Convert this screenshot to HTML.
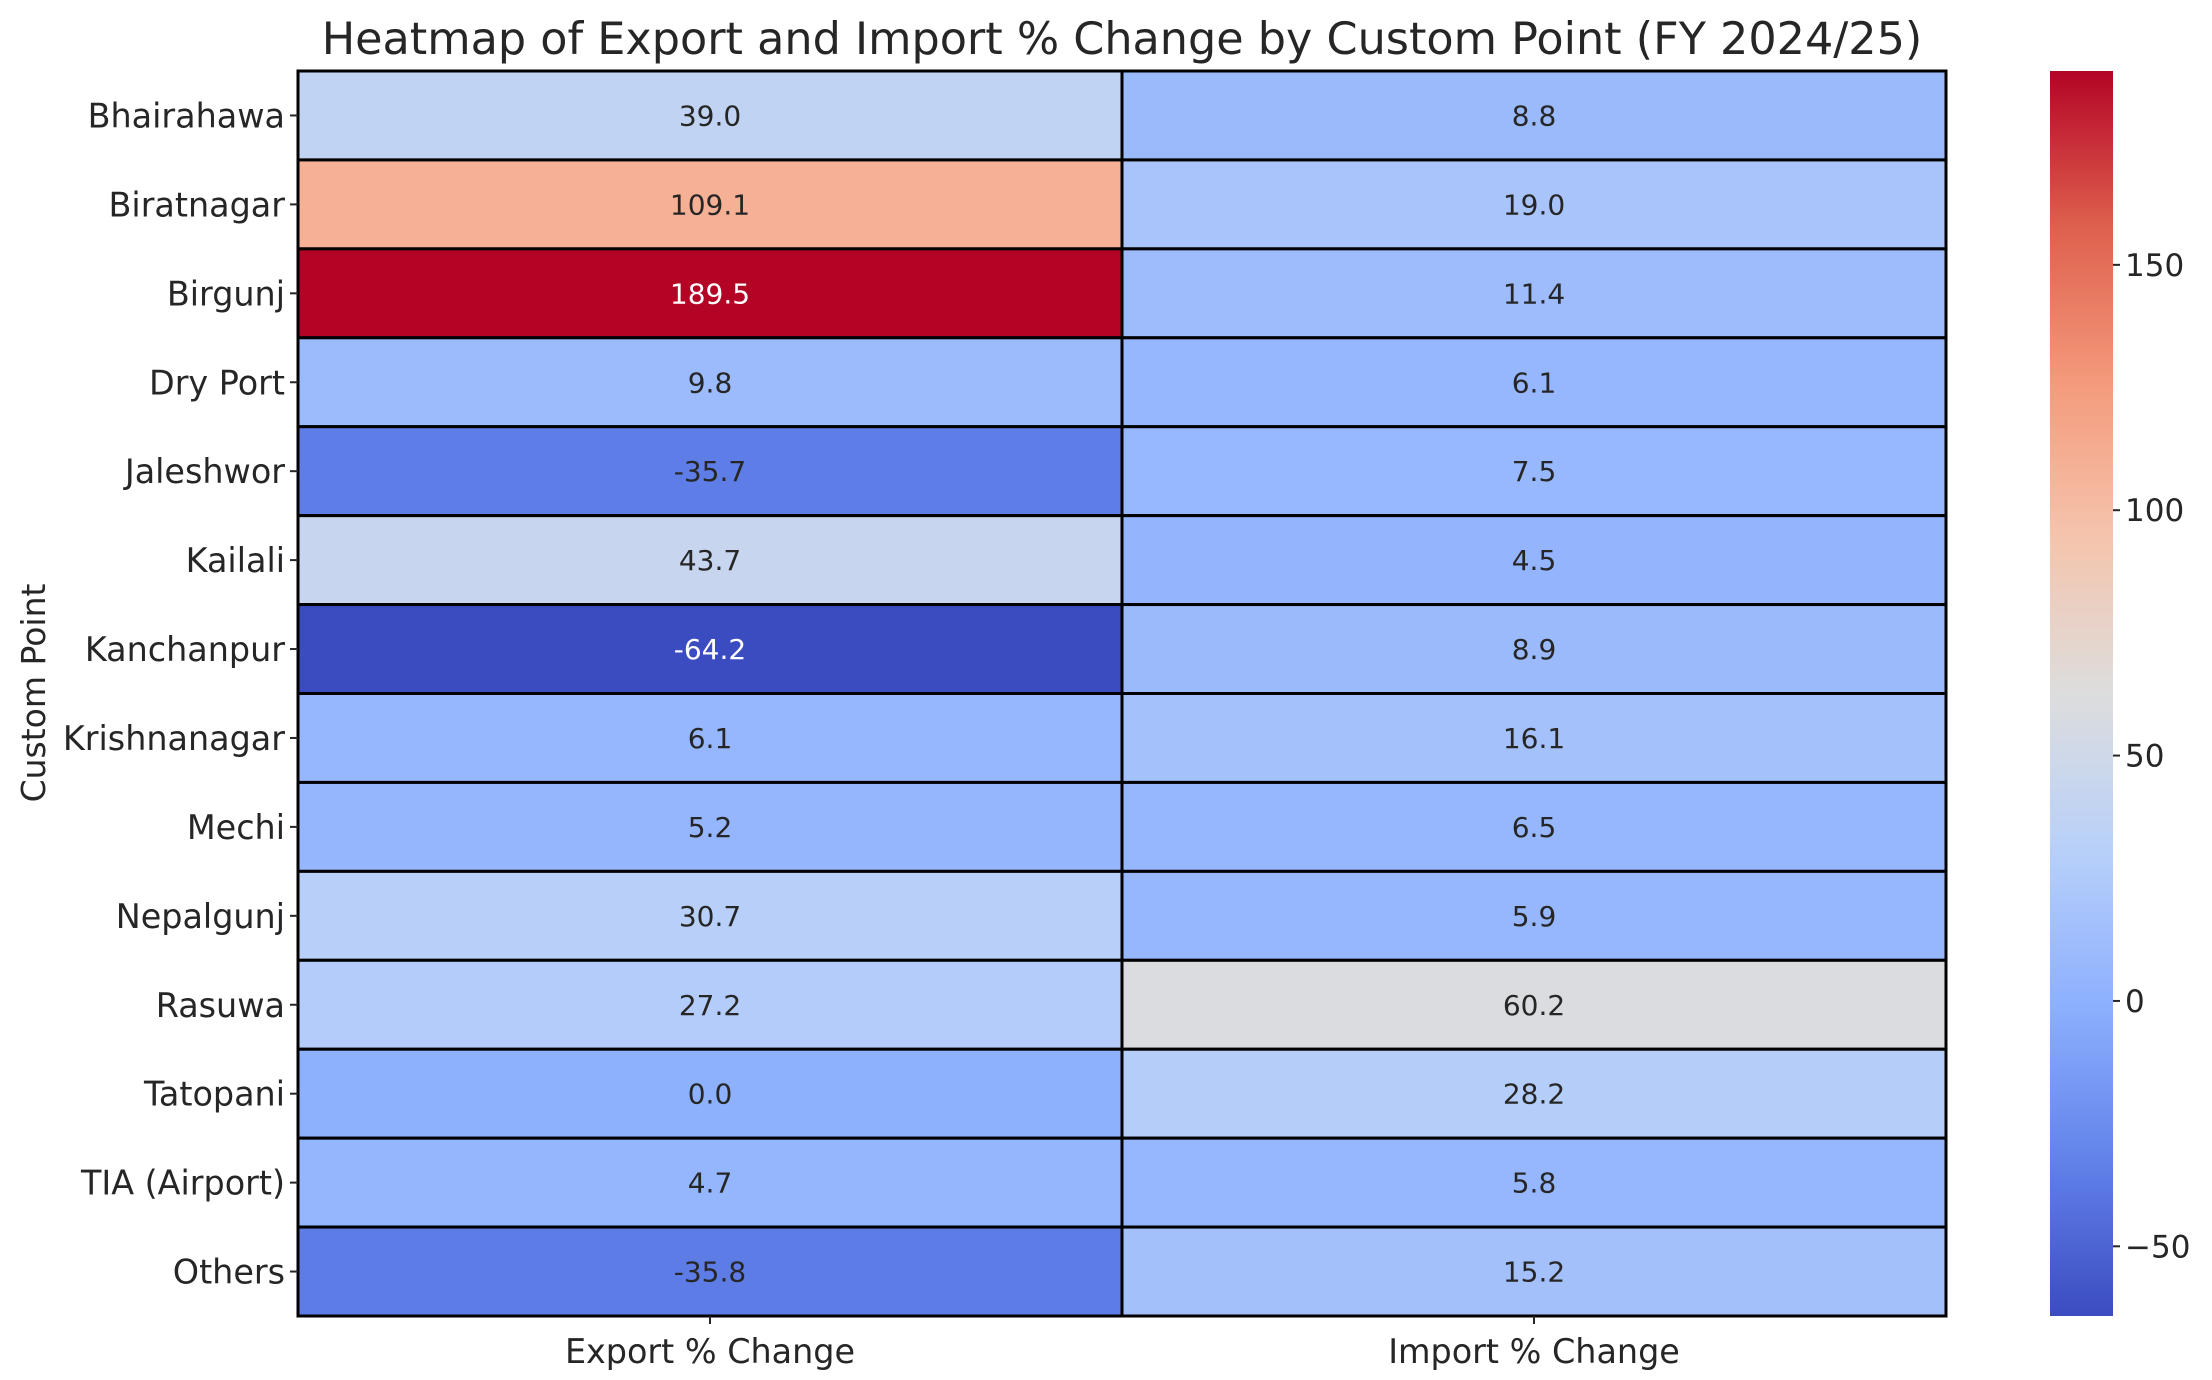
<!DOCTYPE html>
<html><head><meta charset="utf-8"><style>
html,body{margin:0;padding:0;background:#fff;}
svg{display:block;font-family:"DejaVu Sans","Liberation Sans",sans-serif;}
</style></head><body>
<svg id="chart" width="2212" height="1380" viewBox="0 0 2212 1380" xmlns="http://www.w3.org/2000/svg">
<defs><linearGradient id="cbgrad" x1="0" y1="1" x2="0" y2="0"></linearGradient></defs>
<text x="1122" y="54" text-anchor="middle" font-size="44.5" fill="#262626">Heatmap of Export and Import % Change by Custom Point (FY 2024/25)</text>
<g id="cells"></g><g id="ylabels"></g><g id="xlabels"></g><g id="cbar"></g>
<text transform="translate(45,693) rotate(-90)" text-anchor="middle" font-size="33" fill="#262626">Custom Point</text>
</svg>
<script>
const rows = ["Bhairahawa","Biratnagar","Birgunj","Dry Port","Jaleshwor","Kailali","Kanchanpur","Krishnanagar","Mechi","Nepalgunj","Rasuwa","Tatopani","TIA (Airport)","Others"];
const columns = ["Export % Change","Import % Change"];
const exportVals = [39.0,109.1,189.5,9.8,-35.7,43.7,-64.2,6.1,5.2,30.7,27.2,0.0,4.7,-35.8];
const importVals = [8.8,19.0,11.4,6.1,7.5,4.5,8.9,16.1,6.5,5.9,60.2,28.2,5.8,15.2];
const cbTicks = [-50,0,50,100,150];

const NS="http://www.w3.org/2000/svg";
const L=298,R=1946,T=71,B=1316;
const vmin=Math.min(...exportVals,...importVals), vmax=Math.max(...exportVals,...importVals);
const stops=[[59,76,192],[98,130,234],[141,176,254],[184,208,249],[221,221,221],[245,196,173],[244,154,123],[222,96,77],[180,4,38]];
function cmap(t){t=Math.max(0,Math.min(1,t));const p=t*8,i=Math.min(7,Math.floor(p)),f=p-i;const a=stops[i],b=stops[i+1];return [0,1,2].map(k=>Math.round(a[k]+(b[k]-a[k])*f));}
const xScale=c=>L+(R-L)/columns.length*c;
const yScale=r=>T+(B-T)/rows.length*r;
const cw=(R-L)/columns.length, rh=(B-T)/rows.length;
const cbY=v=>B-(v-vmin)/(vmax-vmin)*(B-T);
function el(tag,attrs,parent){const e=document.createElementNS(NS,tag);for(const k in attrs)e.setAttribute(k,attrs[k]);parent.appendChild(e);return e;}
const cells=document.getElementById('cells');
const series=[exportVals,importVals];
series.forEach((vals,c)=>{vals.forEach((v,r)=>{
  const col=cmap((v-vmin)/(vmax-vmin));
  const rc=el('rect',{x:xScale(c),y:yScale(r),width:cw,height:rh,fill:`rgb(${col})`,stroke:'#000','stroke-width':3},cells);
  
  
  const lum=(0.2126*col[0]+0.7152*col[1]+0.0722*col[2])/255;
  const tx=el('text',{x:xScale(c)+cw/2,y:yScale(r)+rh/2+10,'text-anchor':'middle','font-size':28,fill:lum>0.408?'#262626':'#ffffff'},cells);
  tx.textContent=v.toFixed(1);
  
  
});});
const yl=document.getElementById('ylabels');
rows.forEach((n,r)=>{const cy=yScale(r)+rh/2;
  el('line',{x1:L-8,x2:L,y1:cy,y2:cy,stroke:'#262626','stroke-width':2},yl);
  const t=el('text',{x:L-13,y:cy+12,'text-anchor':'end','font-size':33.4,fill:'#262626'},yl);
  t.textContent=n;
  
  
});
const xl=document.getElementById('xlabels');
columns.forEach((n,c)=>{const cx=xScale(c)+cw/2;
  el('line',{x1:cx,x2:cx,y1:B,y2:B+8,stroke:'#262626','stroke-width':2},xl);
  const t=el('text',{x:cx,y:B+47,'text-anchor':'middle','font-size':33.4,fill:'#262626'},xl);
  t.textContent=n;
  
  
});
const g=document.getElementById('cbgrad');
for(let i=0;i<=16;i++){el('stop',{offset:i/16,'stop-color':`rgb(${cmap(i/16)})`},g);}
const cb=document.getElementById('cbar');
const bar=el('rect',{x:2050,y:T,width:63,height:B-T,fill:'url(#cbgrad)'},cb);


cbTicks.forEach(v=>{const y=cbY(v);
  el('line',{x1:2113,x2:2120,y1:y,y2:y,stroke:'#262626','stroke-width':2},cb);
  const t=el('text',{x:2125,y:y+11,'font-size':31,fill:'#262626'},cb);
  t.textContent=v<0?'\u2212'+Math.abs(v):String(v);
  
  
});
</script>
</body></html>
